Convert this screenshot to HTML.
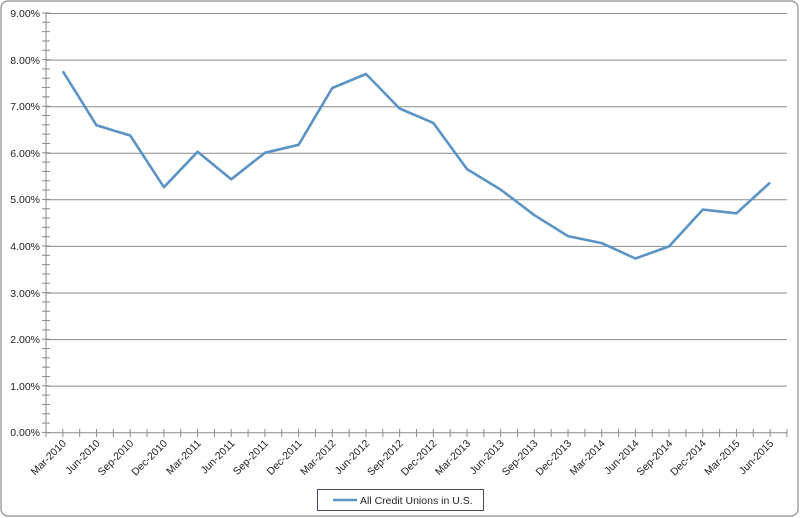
<!DOCTYPE html>
<html><head><style>body{margin:0;background:#fff}svg{display:block;font-family:"Liberation Sans",sans-serif}</style></head><body>
<svg width="800" height="518" xmlns="http://www.w3.org/2000/svg">
<rect x="1" y="1" width="797" height="515" rx="7" fill="#fff" stroke="#8c8c8c" stroke-width="1.2"/>
<g stroke="#8a8a8a" stroke-width="1">
<line x1="46" y1="13.5" x2="787" y2="13.5"/><line x1="46" y1="60.1" x2="787" y2="60.1"/><line x1="46" y1="106.7" x2="787" y2="106.7"/><line x1="46" y1="153.2" x2="787" y2="153.2"/><line x1="46" y1="199.8" x2="787" y2="199.8"/><line x1="46" y1="246.4" x2="787" y2="246.4"/><line x1="46" y1="293" x2="787" y2="293"/><line x1="46" y1="339.6" x2="787" y2="339.6"/><line x1="46" y1="386.1" x2="787" y2="386.1"/><line x1="46" y1="432.7" x2="787" y2="432.7"/>
<line x1="46" y1="13" x2="46" y2="433"/>
</g>
<g id="yt" stroke="#8a8a8a"></g>
<g id="xt" stroke="#8a8a8a"></g>
<g font-size="10.5" fill="#222" text-anchor="end">
<text x="40" y="17">9.00%</text><text x="40" y="64">8.00%</text><text x="40" y="110">7.00%</text><text x="40" y="157">6.00%</text><text x="40" y="203">5.00%</text><text x="40" y="250">4.00%</text><text x="40" y="297">3.00%</text><text x="40" y="343">2.00%</text><text x="40" y="390">1.00%</text><text x="40" y="436">0.00%</text>
</g>
<g id="xl" font-size="10.5" fill="#222" text-anchor="end"></g>
<polyline id="ln" fill="none" stroke="#5b93c4" stroke-width="2.6" stroke-linejoin="round"/>
<rect x="317.5" y="489.5" width="166" height="21" fill="#fff" stroke="#4a4a6a"/>
<line x1="333" y1="500" x2="357" y2="500" stroke="#5b93c4" stroke-width="2.6"/>
<text x="360" y="504" font-size="10.5" fill="#222">All Credit Unions in U.S.</text>
<script>
var ns="http://www.w3.org/2000/svg";
function el(t,a,p){var e=document.createElementNS(ns,t);for(var k in a)e.setAttribute(k,a[k]);document.getElementById(p).appendChild(e);return e;}
for(var i=0;i<=45;i++){var y=13+i*9.32;el("line",{x1:42,x2:50,y1:y,y2:y},"yt");}
for(var i=0;i<=44;i++){var x=46+i*16.84;el("line",{x1:x,x2:x,y1:429,y2:437},"xt");}
var labs=["Mar-2010","Jun-2010","Sep-2010","Dec-2010","Mar-2011","Jun-2011","Sep-2011","Dec-2011","Mar-2012","Jun-2012","Sep-2012","Dec-2012","Mar-2013","Jun-2013","Sep-2013","Dec-2013","Mar-2014","Jun-2014","Sep-2014","Dec-2014","Mar-2015","Jun-2015"];
var d=[7.76,6.60,6.38,5.27,6.03,5.44,6.01,6.18,7.40,7.70,6.96,6.65,5.66,5.22,4.67,4.22,4.07,3.74,4.00,4.79,4.71,5.37];
var pts=[];
for(var i=0;i<22;i++){var x=46+16.84+33.68*i;pts.push(x.toFixed(1)+","+(432.7-d[i]*46.58).toFixed(1));
var t=el("text",{x:x+4,y:444,transform:"rotate(-45 "+(x+4)+" 444)"},"xl");t.textContent=labs[i];}
document.getElementById("ln").setAttribute("points",pts.join(" "));
</script>
</svg>
</body></html>
